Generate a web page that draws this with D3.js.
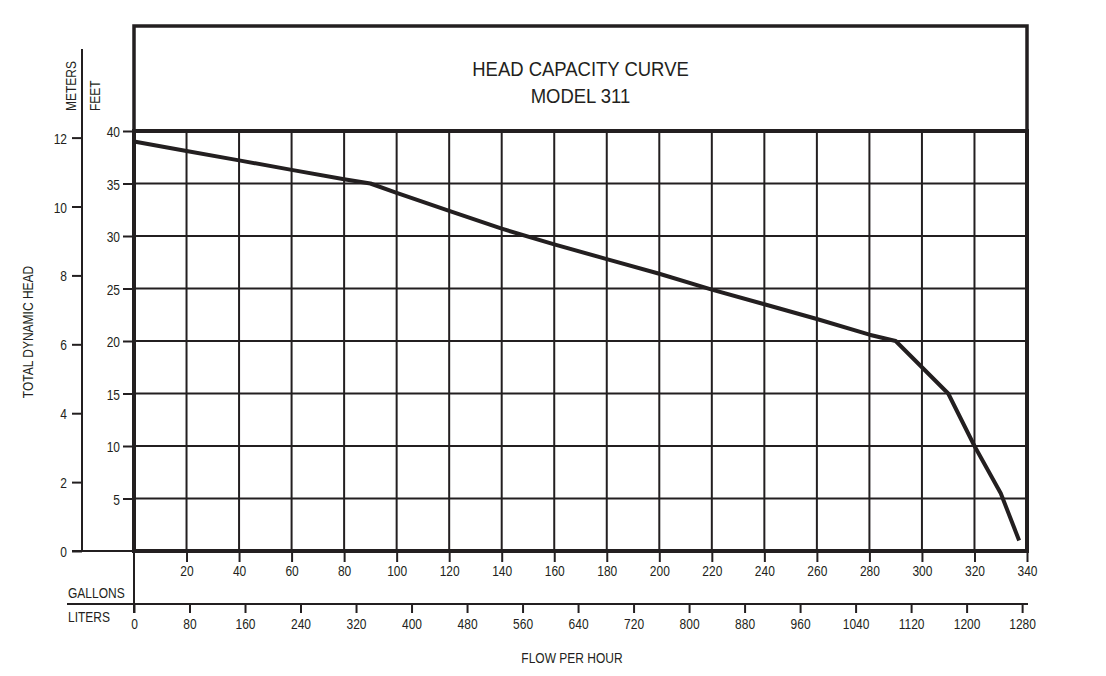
<!DOCTYPE html>
<html>
<head>
<meta charset="utf-8">
<script src="https://cdn.jsdelivr.net/npm/d3@7"></script>
<style>
  body { margin: 0; background: #fff; }
  svg { display: block; font-family: "Liberation Sans", Arial, sans-serif; }
</style>
</head>
<body>
<div id="display"></div>
<script>

// curve: flow in gallons per hour, head in feet
let flowGallons = [0, 20, 40, 60, 80, 90, 100, 120, 140, 160, 180, 200, 220, 240, 260, 280, 290, 310, 320, 330, 337]
let headFeet    = [39, 38.1, 37.2, 36.3, 35.4, 35, 34.1, 32.4, 30.7, 29.2, 27.8, 26.4, 24.9, 23.5, 22.1, 20.6, 20, 15, 10, 5.5, 1]

let feetTicks    = [5, 10, 15, 20, 25, 30, 35, 40]
let meterTicks   = [0, 2, 4, 6, 8, 10, 12]
let gallonTicks  = [20, 40, 60, 80, 100, 120, 140, 160, 180, 200, 220, 240, 260, 280, 300, 320, 340]
let literTicks   = [0, 80, 160, 240, 320, 400, 480, 560, 640, 720, 800, 880, 960, 1040, 1120, 1200, 1280]

let titleLines = ["HEAD CAPACITY CURVE", "MODEL 311"]

const FT_PER_M = 3.28084
const L_PER_GAL = 3.78541

function chart(parentNode)
{
  let width = 1106
  let height = 676
  let plot = {left: 134, right: 1027, top: 131, bottom: 551}
  let ink = "#231f20"
  let squeeze = 0.8   // the original type is a narrow grotesque

  let x = d3.scaleLinear([0, 340], [plot.left, plot.right])
  let xL = d3.scaleLinear([0, 340 * L_PER_GAL], [plot.left, plot.right])
  let y = d3.scaleLinear([0, 40], [plot.bottom, plot.top])
  let yM = d3.scaleLinear([0, 40 / FT_PER_M], [plot.bottom, plot.top])

  const svg = d3.create("svg")
      .attr("width", width)
      .attr("height", height)
      .attr("viewBox", [0, 0, width, height])

  // narrow text: position then squash horizontally
  function label(g, tx, ty, str, size, anchor, k = squeeze, rotate = 0) {
    return g.append("text")
      .attr("transform", `translate(${tx},${ty}) rotate(${rotate}) scale(${k},1)`)
      .attr("text-anchor", anchor)
      .attr("font-size", size)
      .attr("fill", ink)
      .text(str)
  }

  function styleAxis(g, dx, dy, anchor) {
    g.select(".domain").remove()
    g.selectAll(".tick line").attr("stroke", ink).attr("stroke-width", 2)
    g.selectAll(".tick text")
      .attr("x", null).attr("y", null).attr("dy", null)
      .attr("transform", `translate(${dx},${dy}) scale(${squeeze},1)`)
      .attr("text-anchor", anchor)
      .attr("font-size", 15)
      .attr("fill", ink)
    g.attr("font-family", null).attr("font-size", null)
  }

  // grid
  svg.append("g")
      .attr("stroke", ink)
      .attr("stroke-width", 2)
    .selectAll("line.v")
    .data(gallonTicks)
    .join("line")
      .attr("x1", d => x(d)).attr("x2", d => x(d))
      .attr("y1", plot.top).attr("y2", plot.bottom)

  svg.append("g")
      .attr("stroke", ink)
      .attr("stroke-width", 2)
    .selectAll("line.h")
    .data(feetTicks)
    .join("line")
      .attr("x1", plot.left).attr("x2", plot.right)
      .attr("y1", d => y(d)).attr("y2", d => y(d))

  // feet axis
  svg.append("g")
      .attr("transform", `translate(${plot.left},0)`)
      .call(d3.axisLeft(y).tickValues(feetTicks).tickSize(11))
      .call(g => styleAxis(g, -14, 5.5, "end"))

  // meters axis
  svg.append("g")
      .attr("transform", `translate(82,0)`)
      .call(d3.axisLeft(yM).tickValues(meterTicks).tickSize(10))
      .call(g => styleAxis(g, -15, 5.5, "end"))
  svg.append("line")
      .attr("x1", 82).attr("x2", 82).attr("y1", 49).attr("y2", plot.bottom)
      .attr("stroke", ink).attr("stroke-width", 2)
  svg.append("line")
      .attr("x1", 72).attr("x2", plot.left).attr("y1", plot.bottom).attr("y2", plot.bottom)
      .attr("stroke", ink).attr("stroke-width", 2)

  // gallons axis
  svg.append("g")
      .attr("transform", `translate(0,${plot.bottom})`)
      .call(d3.axisBottom(x).tickValues(gallonTicks).tickSize(11))
      .call(g => styleAxis(g, 0, 25, "middle"))

  // liters axis
  let litersY = 604
  svg.append("line")
      .attr("x1", 67).attr("x2", 1028).attr("y1", litersY).attr("y2", litersY)
      .attr("stroke", ink).attr("stroke-width", 2)
  svg.append("g")
      .attr("transform", `translate(0,${litersY})`)
      .call(d3.axisBottom(xL).tickValues(literTicks).tickFormat(d3.format("d")).tickSize(9))
      .call(g => styleAxis(g, 0, 25, "middle"))
  svg.append("line")
      .attr("x1", plot.left).attr("x2", plot.left).attr("y1", plot.bottom).attr("y2", litersY + 9)
      .attr("stroke", ink).attr("stroke-width", 2)

  // head curve
  let line = d3.line()
      .x(d => x(d[0]))
      .y(d => y(d[1]))
  svg.append("path")
      .datum(d3.zip(flowGallons, headFeet))
      .attr("fill", "none")
      .attr("stroke", ink)
      .attr("stroke-width", 4)
      .attr("stroke-linejoin", "round")
      .attr("d", line)

  // frames
  svg.append("rect")
      .attr("x", plot.left).attr("y", 26)
      .attr("width", plot.right - plot.left).attr("height", plot.top - 26)
      .attr("fill", "none").attr("stroke", ink).attr("stroke-width", 3.5)
  svg.append("rect")
      .attr("x", plot.left).attr("y", plot.top)
      .attr("width", plot.right - plot.left).attr("height", plot.bottom - plot.top)
      .attr("fill", "none").attr("stroke", ink).attr("stroke-width", 4)

  // texts
  let cx = (plot.left + plot.right) / 2
  label(svg, cx, 76, titleLines[0], 21, "middle", 0.88)
  label(svg, cx, 103, titleLines[1], 21, "middle", 0.88)

  label(svg, 76, 111, "METERS", 15, "start", squeeze, -90)
  label(svg, 100, 111, "FEET", 15, "start", squeeze, -90)
  label(svg, 33, 332, "TOTAL DYNAMIC HEAD", 15, "middle", squeeze, -90)

  label(svg, 68, 598, "GALLONS", 15, "start")
  label(svg, 68, 622, "LITERS", 15, "start")
  label(svg, 572, 663, "FLOW PER HOUR", 15, "middle")

  parentNode.appendChild(svg.node())
}

document.addEventListener("DOMContentLoaded", () => {
  chart(document.getElementById("display"))
})
</script>
</body>
</html>
